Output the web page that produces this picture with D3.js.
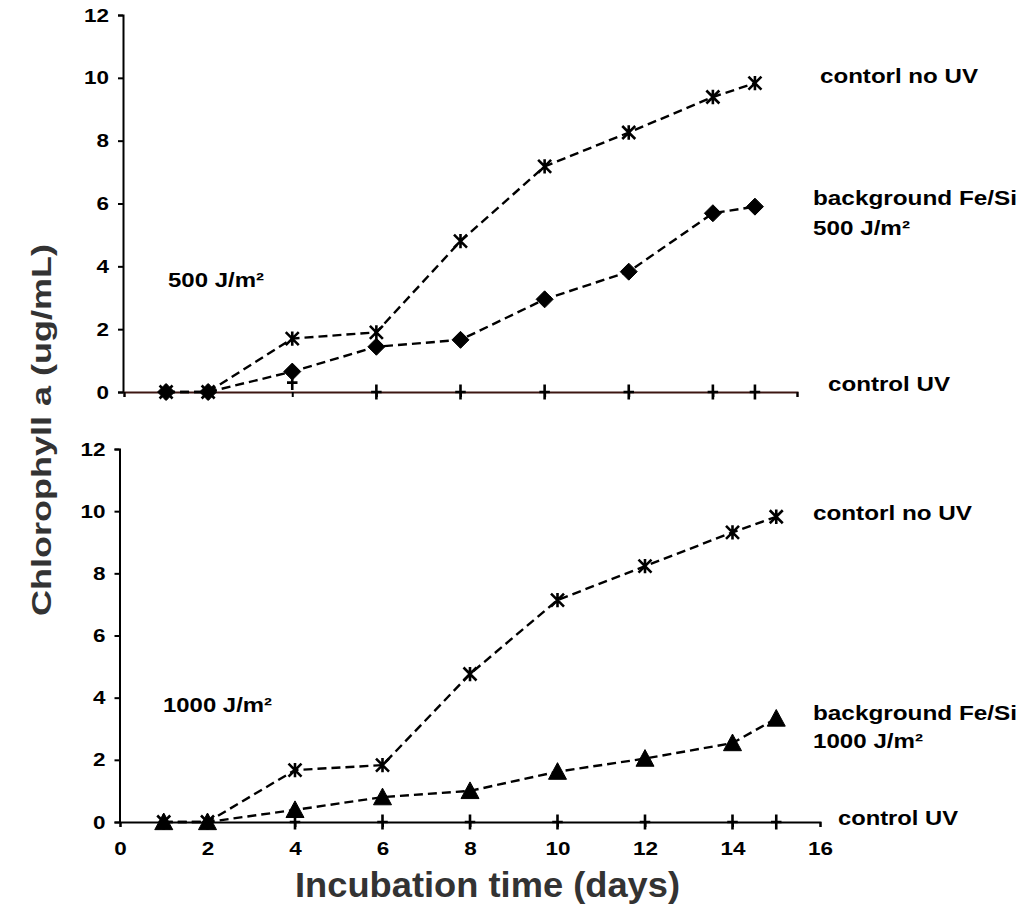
<!DOCTYPE html>
<html>
<head>
<meta charset="utf-8">
<script src="https://cdn.jsdelivr.net/npm/d3@7"></script>
<style>
  body { margin: 0; background: #fff; }
  svg { display: block; font-family: "Liberation Sans", Arial, sans-serif; font-weight: bold; }
</style>
</head>
<body>
<div id="canvas"></div>
<script>
// sampling days (same for every series)
const days = [1, 2, 4, 6, 8, 10, 12, 14, 15];

// top panel, 500 J/m2
const noUV500 = [0, 0, 1.7, 1.9, 4.8, 7.18, 8.26, 9.39, 9.83];
const feSi500 = [0, 0, 0.65, 1.44, 1.66, 2.95, 3.83, 5.69, 5.9];
const uv500 = [0, 0, 0.3, 0, 0, 0, 0, 0, 0];

// bottom panel, 1000 J/m2
const noUV1000 = [0, 0, 1.67, 1.83, 4.76, 7.14, 8.23, 9.32, 9.82];
const feSi1000 = [0, 0, 0.39, 0.8, 1.0, 1.62, 2.04, 2.54, 3.33];
const uv1000 = [0, 0, 0, 0, 0, 0, 0, 0, 0];

const yTicks = [0, 2, 4, 6, 8, 10, 12];
const xTicks = [0, 2, 4, 6, 8, 10, 12, 14, 16];

const width = 1024;
const height = 909;

const svg = d3.select("#canvas").append("svg")
    .attr("width", width)
    .attr("height", height);

// marker shapes
const asterisk = r => `M${-r},${-r}L${r},${r}M${-r},${r}L${r},${-r}M0,${-r * 1.1}L0,${r * 1.1}`;
const diamond = r => `M0,${-r}L${r},0L0,${r}L${-r},0Z`;
const triangle = r => `M0,${-r}L${r},${r * 0.85}L${-r},${r * 0.85}Z`;
const plus = r => `M0,${-r}L0,${r}M${-r * 0.7},0L${r * 0.7},0`;

function styleTicks(sel)
{
    sel.selectAll("text")
        .style("font-size", "19px")
        .style("font-weight", "bold")
        .style("font-family", "'Liberation Sans', Arial, sans-serif")
        .attr("fill", "#000")
        .attr("textLength", function () { return this.textContent.length * 12.5; })
        .attr("lengthAdjust", "spacingAndGlyphs");
}

function drawPanel(p)
{
    const x = d3.scaleLinear().domain([0, 16]).range(p.xr);
    const y = d3.scaleLinear().domain([0, 12]).range(p.yr);
    const g = svg.append("g");

    // y axis
    const ya = g.append("g")
        .attr("transform", `translate(${p.yx},0)`)
        .call(d3.axisLeft(y).tickValues(yTicks).tickSize(5).tickPadding(9));
    ya.select(".domain").attr("stroke-width", 2);
    ya.selectAll(".tick line").attr("stroke-width", 2);
    styleTicks(ya);

    // x axis
    const xa = g.append("g")
        .attr("transform", `translate(0,${p.yr[0]})`)
        .call(d3.axisBottom(x).tickValues(xTicks).tickSize(5).tickPadding(15)
            .tickFormat(p.labels ? d3.format("d") : ""));
    xa.select(".domain").attr("stroke-width", 2).attr("stroke", p.axisColor);
    xa.selectAll(".tick line").attr("stroke-width", 2);
    styleTicks(xa);

    const line = d3.line().x(d => x(d[0])).y(d => y(d[1]));

    p.series.forEach(s => {
        const pts = d3.zip(days, s.values);
        if (s.dashed) {
            g.append("path")
                .attr("d", line(pts))
                .attr("fill", "none")
                .attr("stroke", "#000")
                .attr("stroke-width", 2.4)
                .attr("stroke-dasharray", "9,5");
        }
        g.selectAll(null).data(pts).join("path")
            .attr("transform", d => `translate(${x(d[0])},${y(d[1])})`)
            .attr("d", s.shape)
            .attr("fill", s.fill ? "#000" : "none")
            .attr("stroke", "#000")
            .attr("stroke-width", s.fill ? 1 : 2.6);
    });

    p.notes.forEach(n => {
        g.append("text")
            .attr("x", n.x).attr("y", n.y)
            .attr("font-size", 20)
            .attr("fill", "#000")
            .attr("textLength", n.w)
            .attr("lengthAdjust", "spacingAndGlyphs")
            .text(n.t);
    });
}

drawPanel({
    xr: [124, 797], yr: [392, 15], yx: 123, labels: false, axisColor: "#3c1612",
    series: [
        { values: uv500, shape: plus(7.5), fill: false, dashed: false },
        { values: feSi500, shape: diamond(8.5), fill: true, dashed: true },
        { values: noUV500, shape: asterisk(6.5), fill: false, dashed: true }
    ],
    notes: [
        { t: "500 J/m²", x: 168, y: 287, w: 96 },
        { t: "contorl no UV", x: 820, y: 83, w: 158 },
        { t: "background Fe/Si", x: 813, y: 205, w: 204 },
        { t: "500 J/m²", x: 813, y: 235, w: 97 },
        { t: "control UV", x: 828, y: 391, w: 122 }
    ]
});

drawPanel({
    xr: [120, 820], yr: [822, 449], yx: 119.5, labels: true, axisColor: "#000",
    series: [
        { values: uv1000, shape: plus(7.5), fill: false, dashed: false },
        { values: feSi1000, shape: triangle(9), fill: true, dashed: true },
        { values: noUV1000, shape: asterisk(6.5), fill: false, dashed: true }
    ],
    notes: [
        { t: "1000 J/m²", x: 163, y: 712, w: 109 },
        { t: "contorl no UV", x: 813, y: 520, w: 159 },
        { t: "background Fe/Si", x: 813, y: 720, w: 204 },
        { t: "1000 J/m²", x: 813, y: 748, w: 110 },
        { t: "control UV", x: 838, y: 825, w: 120 }
    ]
});

// axis titles
svg.append("text")
    .attr("transform", "translate(51,430) rotate(-90)")
    .attr("text-anchor", "middle")
    .attr("font-size", 27)
    .attr("fill", "#333")
    .attr("textLength", 372)
    .attr("lengthAdjust", "spacingAndGlyphs")
    .text("Chlorophyll a (ug/mL)");

svg.append("text")
    .attr("x", 295).attr("y", 897)
    .attr("font-size", 35)
    .attr("fill", "#333")
    .attr("textLength", 385)
    .attr("lengthAdjust", "spacingAndGlyphs")
    .text("Incubation time (days)");
</script>
</body>
</html>
